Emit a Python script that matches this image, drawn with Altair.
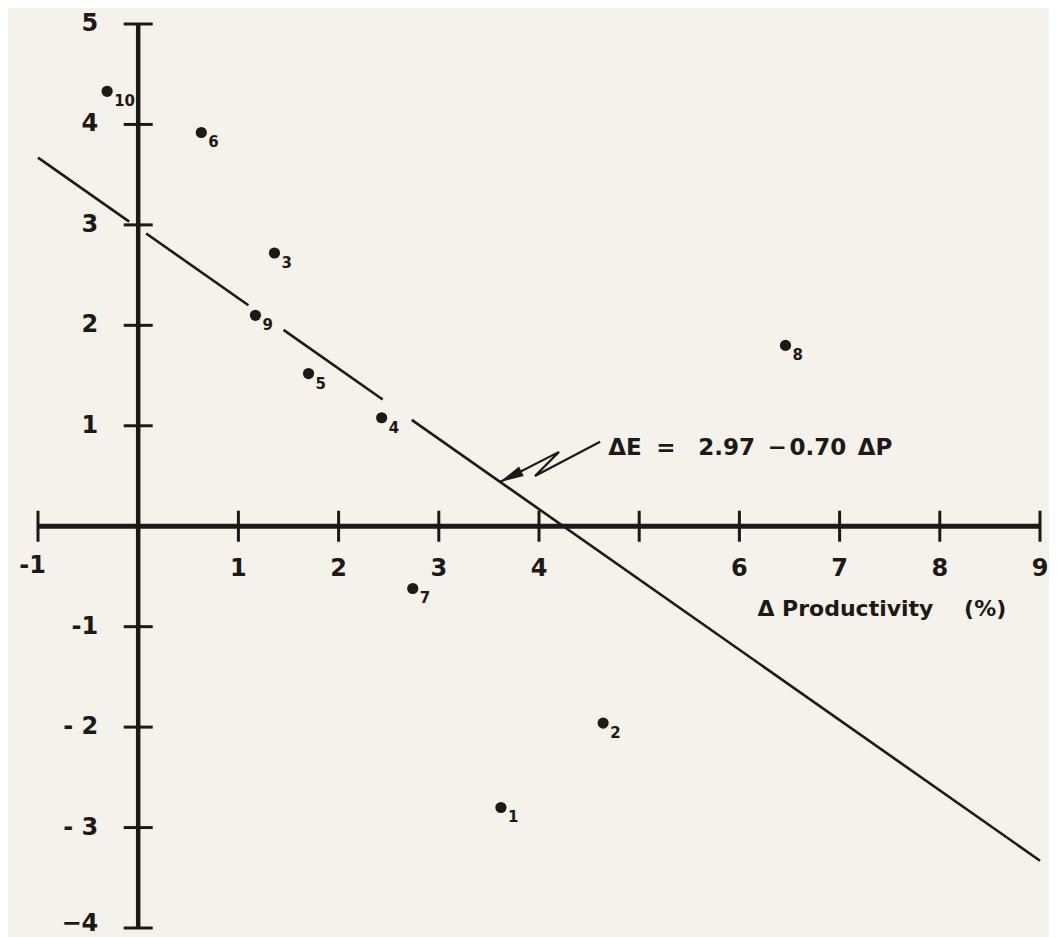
import altair as alt
import pandas as pd

# ---------------- data ----------------
pt_labels = ["1", "2", "3", "4", "5", "6", "7", "8", "9", "10"]
pt_x = [3.62, 4.64, 1.36, 2.43, 1.70, 0.63, 2.74, 6.46, 1.17, -0.31]
pt_y = [-2.80, -1.96, 2.72, 1.08, 1.52, 3.92, -0.62, 1.80, 2.10, 4.33]

# regression line  dE = 2.97 - 0.70 dP, drawn in pieces (gaps at the labels)
intercept = 2.97
slope = -0.70
seg_start = [-1.0, 0.08, 1.45, 2.73]
seg_end = [-0.09, 1.10, 2.44, 9.0]

x_domain = [-1, 9]
y_domain = [-4, 5]
x_tick_vals = [-1, 1, 2, 3, 4, 5, 6, 7, 8, 9]
x_label_vals = [1, 2, 3, 4, 6, 7, 8, 9]
x_label_text = ["1", "2", "3", "4", "6", "7", "8", "9"]
x_neg_label_vals = [-1]
x_neg_label_text = ["-1"]
y_tick_vals = [-4, -3, -2, -1, 1, 2, 3, 4, 5]
y_label_vals = [5, 4, 3, 2, 1, -1, -2, -3]
y_label_text = ["5", "4", "3", "2", "1", "-1", "-\u00a02", "-\u00a03"]
y_bottom_label_vals = [-4]
y_bottom_label_text = ["\u22124"]

# zig-zag leader to the equation (data units)
lead_x = [4.61, 3.96, 4.20, 3.61]
lead_y = [0.84, 0.50, 0.74, 0.44]

eq_parts = ["\u0394E", "=", "2.97", "\u2212", "0.70", "\u0394P"]
eq_x = [4.69, 5.17, 5.59, 6.28, 6.50, 7.18]
eq_y = 0.78

title_text = "\u0394 Productivity\u00a0\u00a0\u00a0\u00a0(%)"
title_x = 6.18
title_y = -0.82

# ---------------- styling ----------------
ink = "#1c1916"
bg = "#f5f2ec"
FONT = "DejaVu Sans"

X = alt.X("x:Q", scale=alt.Scale(domain=x_domain, nice=False, zero=False), axis=None)
Y = alt.Y("y:Q", scale=alt.Scale(domain=y_domain, nice=False, zero=False), axis=None)

# axes lines
xaxis = alt.Chart(pd.DataFrame({"x": [x_domain[0]], "x2": [x_domain[1]], "y": [0]})).mark_rule(
    color=ink, strokeWidth=5).encode(x=X, x2="x2:Q", y=Y)
yaxis = alt.Chart(pd.DataFrame({"x": [0], "y": [y_domain[0]], "y2": [y_domain[1]]})).mark_rule(
    color=ink, strokeWidth=4.5).encode(x=X, y=Y, y2="y2:Q")

xticks = alt.Chart(pd.DataFrame({"x": x_tick_vals, "y": [0] * len(x_tick_vals)})).mark_tick(
    orient="vertical", size=31, thickness=3, color=ink, opacity=1).encode(x=X, y=Y)
yticks = alt.Chart(pd.DataFrame({"x": [0] * len(y_tick_vals), "y": y_tick_vals})).mark_tick(
    orient="horizontal", size=29, thickness=3, color=ink, opacity=1).encode(x=X, y=Y)

lab_style = dict(font=FONT, fontSize=24, fontWeight="bold", color=ink, baseline="middle")
xlabels = alt.Chart(pd.DataFrame({"x": x_label_vals, "y": [0] * len(x_label_vals), "t": x_label_text})).mark_text(
    align="center", dy=43, **lab_style).encode(x=X, y=Y, text="t:N")
xneglabels = alt.Chart(pd.DataFrame({"x": x_neg_label_vals, "y": [0], "t": x_neg_label_text})).mark_text(
    align="right", dx=8, dy=40, **lab_style).encode(x=X, y=Y, text="t:N")
ylabels = alt.Chart(pd.DataFrame({"x": [0] * len(y_label_vals), "y": y_label_vals, "t": y_label_text})).mark_text(
    align="right", dx=-40, dy=0, **lab_style).encode(x=X, y=Y, text="t:N")
ybottom = alt.Chart(pd.DataFrame({"x": [0], "y": y_bottom_label_vals, "t": y_bottom_label_text})).mark_text(
    align="right", dx=-40, dy=-4, **lab_style).encode(x=X, y=Y, text="t:N")

# regression line
line_rows = []
for i, (a, b) in enumerate(zip(seg_start, seg_end)):
    for xv in (a, b):
        line_rows.append({"x": xv, "y": intercept + slope * xv, "seg": i})
reg = alt.Chart(pd.DataFrame(line_rows)).mark_line(color=ink, strokeWidth=2.6).encode(
    x=X, y=Y, detail="seg:N")

pts_df = pd.DataFrame({"x": pt_x, "y": pt_y, "t": pt_labels})
points = alt.Chart(pts_df).mark_circle(size=125, color=ink, opacity=1).encode(x=X, y=Y)
plabels = alt.Chart(pts_df).mark_text(
    align="left", baseline="middle", dx=7, dy=10, font=FONT, fontSize=15, fontWeight="bold",
    color=ink).encode(x=X, y=Y, text="t:N")

lead = alt.Chart(pd.DataFrame({"x": lead_x, "y": lead_y, "o": list(range(len(lead_x)))})).mark_line(
    color=ink, strokeWidth=2.2).encode(x=X, y=Y, order="o:Q")
head = alt.Chart(pd.DataFrame({"x": [lead_x[-1]], "y": [lead_y[-1]]})).mark_point(
    shape="M0,0 L-0.22,1 L0.22,1 Z", filled=True, size=2300, angle=243.4, color=ink,
    opacity=1, strokeWidth=0).encode(x=X, y=Y)

eq = alt.Chart(pd.DataFrame({"x": eq_x, "y": [eq_y] * len(eq_x), "t": eq_parts})).mark_text(
    align="left", baseline="middle", font=FONT, fontSize=23, fontWeight="bold", color=ink).encode(
    x=X, y=Y, text="t:N")

title = alt.Chart(pd.DataFrame({"x": [title_x], "y": [title_y], "t": [title_text]})).mark_text(
    align="left", baseline="middle", font=FONT, fontSize=22, fontWeight="bold", color=ink).encode(
    x=X, y=Y, text="t:N")

chart = alt.layer(
    xaxis, yaxis, xticks, yticks, reg, lead, head, points, plabels,
    xlabels, xneglabels, ylabels, ybottom, eq, title
).properties(
    width=1002, height=904,
    padding={"left": 30, "top": 16, "right": 9, "bottom": 10},
    autosize=alt.AutoSizeParams(type="none"),
    background=bg,
).configure_view(stroke=None)

chart.save("out.html", embed_options={"renderer": "svg", "actions": False})
